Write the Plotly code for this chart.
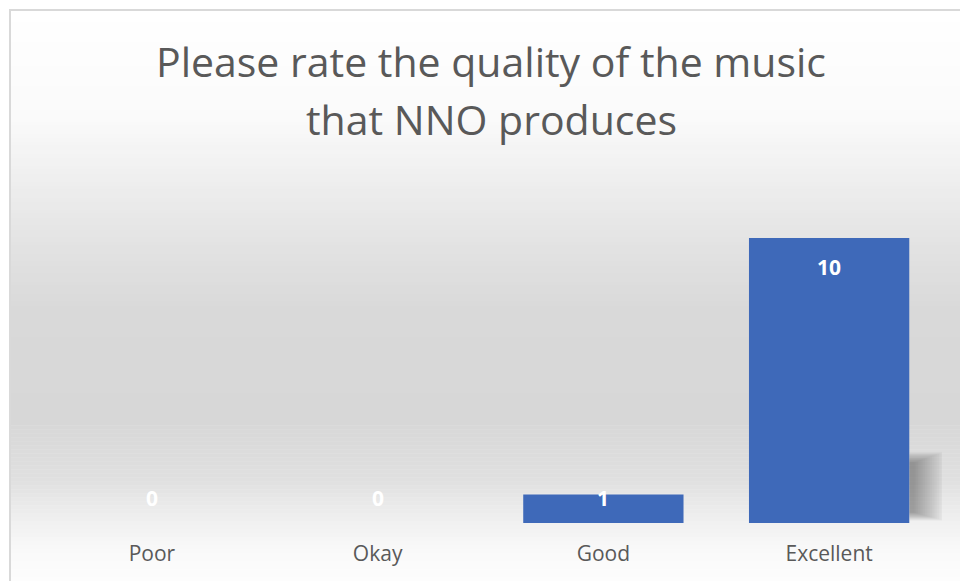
import plotly.graph_objects as go

# Survey responses
categories = ["Poor", "Okay", "Good", "Excellent"]
counts = [0, 0, 1, 10]

title_lines = ["Please rate the quality of the music", "that NNO produces"]

BAR_COLOR = "#3E69B9"
TEXT_GRAY = "#595959"
W, H = 960, 581
BARGAP = 0.29

fig = go.Figure()

fig.add_trace(go.Bar(
    x=categories,
    y=counts,
    marker=dict(color=BAR_COLOR, line=dict(width=0)),
    hoverinfo="x+y",
))

# Vertical grey background gradient (white -> grey -> white), built from thin strips
stops = [(10, 255), (120, 250), (150, 244), (250, 226), (310, 217),
         (420, 215), (480, 224), (515, 238), (550, 249), (581, 253)]


def gray_at(py):
    for (a, ga), (b, gb) in zip(stops[:-1], stops[1:]):
        if a <= py <= b:
            t = (py - a) / (b - a)
            return ga + (gb - ga) * t
    return stops[-1][1]


shapes = []
n_strips = 143
y_top, y_bot = 10, H
step = (y_bot - y_top) / n_strips
for i in range(n_strips):
    p0 = y_top + i * step
    p1 = p0 + step + 0.6
    g = int(round(gray_at(p0 + step / 2)))
    shapes.append(dict(
        type="rect", xref="paper", yref="paper", layer="below",
        x0=10 / W, x1=1.0, y0=1 - min(p1, H) / H, y1=1 - p0 / H,
        fillcolor=f"rgb({g},{g},{g})", line=dict(width=0),
    ))

# Soft drop shadow to the right of the tallest bar
tallest = max(range(len(counts)), key=lambda i: counts[i])
bar_right = tallest + (1 - BARGAP) / 2
n_layers = 18
for k in range(n_layers):
    f = k / n_layers
    shapes.append(dict(
        type="rect", xref="x", yref="y", layer="below",
        x0=bar_right, x1=bar_right + 0.155 * (1 - 0.9 * f),
        y0=0.08 + 0.3 * f, y1=2.5 - 0.4 * f,
        fillcolor="rgba(0,0,0,0.018)", line=dict(width=0),
    ))

# Chart frame
shapes.append(dict(
    type="rect", xref="paper", yref="paper", layer="above",
    x0=10 / W, x1=1.02, y0=-0.02, y1=1 - 10 / H,
    line=dict(color="#D9D9D9", width=2), fillcolor="rgba(0,0,0,0)",
))

# Title as two centred lines
annotations = []
for line, py in zip(title_lines, [61, 119]):
    annotations.append(dict(
        text=line, xref="paper", yref="paper", x=491 / W, y=1 - py / H,
        xanchor="center", yanchor="middle", showarrow=False,
        font=dict(family="Open Sans", size=41, color=TEXT_GRAY),
    ))

# Value labels inside the top of each bar (short bars get the label near the base)
for cat, v in zip(categories, counts):
    if v >= 2:
        yv, shift = v, -29
    else:
        yv, shift = 0, 25
    annotations.append(dict(
        text=f"<b>{v}</b>", x=cat, y=yv, xref="x", yref="y", yshift=shift,
        xanchor="center", yanchor="middle", showarrow=False,
        font=dict(family="Open Sans", size=21, color="white"),
    ))

fig.update_layout(
    width=W, height=H,
    margin=dict(l=0, r=0, t=0, b=0),
    paper_bgcolor="white",
    plot_bgcolor="rgba(0,0,0,0)",
    showlegend=False,
    bargap=BARGAP,
    shapes=shapes,
    annotations=annotations,
    xaxis=dict(
        domain=[39 / W, 942 / W],
        range=[-0.5, len(categories) - 0.5],
        showgrid=False, zeroline=False, showline=False, ticks="",
        tickfont=dict(family="Open Sans", size=21, color=TEXT_GRAY),
        ticklabelstandoff=16,
    ),
    yaxis=dict(
        domain=[1 - 523 / H, 1 - 209.5 / H],
        range=[0, 11],
        showgrid=False, zeroline=False, showline=False,
        showticklabels=False, ticks="",
    ),
)

fig.write_html("out.html")
